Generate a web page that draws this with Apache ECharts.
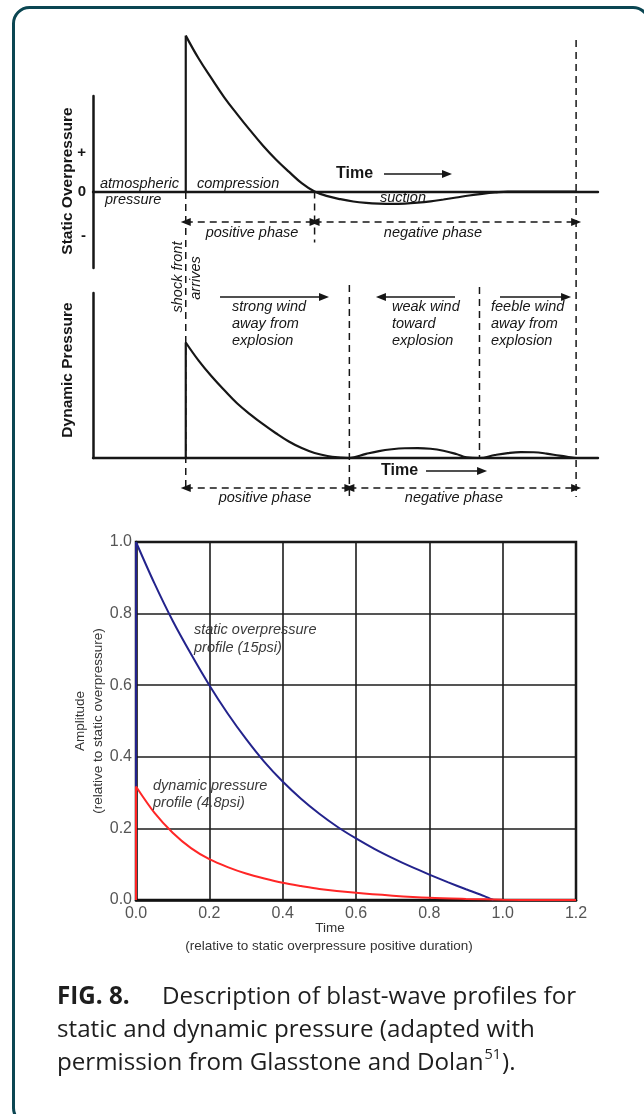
<!DOCTYPE html>
<html><head><meta charset="utf-8">
<script src="https://cdn.jsdelivr.net/npm/echarts@6/dist/echarts.min.js"></script>
<style>html,body{margin:0;padding:0;background:#fff}#c{width:644px;height:1114px}</style>
</head><body><div id="c"></div>
<script>
// ---------- DATA ----------
// Schematic time axis: units of positive-phase duration (shock front arrives at t = 0)
const staticT = [0, 0.1, 0.2, 0.3, 0.4, 0.5, 0.6, 0.7, 0.8, 0.9, 1.0, 1.1, 1.2, 1.3, 1.4, 1.5, 1.6, 1.7, 1.8, 1.9, 2.0, 2.1, 2.2, 2.3, 2.4, 2.5, 2.7, 3.03];
const staticV = [1.02, 0.87, 0.74, 0.615, 0.505, 0.40, 0.30, 0.21, 0.13, 0.055, 0, -0.03, -0.05, -0.065, -0.074, -0.079, -0.081, -0.079, -0.073, -0.064, -0.052, -0.039, -0.026, -0.015, -0.006, 0, 0, 0];
const dynT = [0, 0.1, 0.2, 0.3, 0.4, 0.5, 0.6, 0.7, 0.8, 0.9, 1.0, 1.1, 1.2, 1.27, 1.4, 1.5, 1.6, 1.7, 1.8, 1.9, 2.0, 2.1, 2.18, 2.28, 2.4, 2.5, 2.6, 2.7, 2.8, 2.9, 3.0, 3.03];
const dynV = [0.70, 0.59, 0.495, 0.41, 0.33, 0.265, 0.205, 0.15, 0.10, 0.06, 0.03, 0.012, 0.003, 0, 0.025, 0.042, 0.053, 0.059, 0.06, 0.056, 0.044, 0.024, 0.004, 0, 0.018, 0.03, 0.036, 0.035, 0.027, 0.014, 0.003, 0];
// phase boundaries (schematic time)
const phaseStatic = [[0, 1], [1, 3.03]];
const phaseDyn = [[0, 1.27], [1.27, 3.03]];
const windArrows = [[0.266, 1.073], [2.09, 1.515], [2.439, 2.952]]; // from -> to
const timeArrowStatic = [1.539, 2.028];
const timeArrowDyn = [1.865, 2.30];

// Lower chart: amplitude relative to static overpressure vs time
const blueT = [0, 0.05, 0.1, 0.15, 0.2, 0.25, 0.3, 0.35, 0.4, 0.45, 0.5, 0.55, 0.6, 0.65, 0.7, 0.75, 0.8, 0.85, 0.9, 0.95, 0.975];
const blueV = [1.0, 0.885, 0.78, 0.687, 0.600, 0.521, 0.45, 0.386, 0.331, 0.283, 0.241, 0.204, 0.172, 0.143, 0.117, 0.093, 0.071, 0.05, 0.03, 0.011, 0];
const redT = [0, 0.05, 0.1, 0.15, 0.2, 0.25, 0.3, 0.35, 0.4, 0.45, 0.5, 0.6, 0.7, 0.8, 0.9, 1.0, 1.1, 1.2];
const redV = [0.317, 0.244, 0.188, 0.145, 0.114, 0.092, 0.074, 0.06, 0.048, 0.039, 0.031, 0.02, 0.012, 0.006, 0.003, 0.001, 0, 0];

// ---------- HELPERS ----------
const zip = (a, b) => a.map((x, i) => [x, b[i]]);
const INK = '#161616';
const AF = '"Liberation Sans", Arial, sans-serif';
const T0 = -0.72, T1 = 3.2;

function schemX(g) {
  return { gridIndex: g, type: 'value', min: T0, max: T1,
    axisLine: { show: true, onZero: true, lineStyle: { color: INK, width: 2.4 } },
    axisTick: { show: false }, axisLabel: { show: false }, splitLine: { show: false } };
}
// a straight segment drawn as a line series; optional arrow heads at ends
function seg(g, p0, p1, dashed, head0, head1) {
  const a = Math.atan2(p1[1] - p0[1], p1[0] - p0[0]);
  const leftwards = a >= Math.PI / 2 || a <= -Math.PI / 2;
  const pt = (p, head, atEnd) => {
    if (!head) return { value: p, symbol: 'none' };
    const pointsRight = atEnd ? !leftwards : leftwards;
    return { value: p, symbol: 'triangle', symbolSize: [8, 10], symbolRotate: pointsRight ? -90 : 90 };
  };
  return { type: 'line', xAxisIndex: g, yAxisIndex: g, clip: false, silent: true, animation: false,
    showSymbol: true, symbol: 'none', z: 5,
    itemStyle: { color: INK, borderWidth: 0 },
    lineStyle: { color: INK, width: 1.5, type: dashed ? [7, 5] : 'solid' },
    data: [pt(p0, head0, false), pt(p1, head1, true)] };
}

// ---------- GRAPHICS (texts, frame) ----------
const G = [];
function txt(x, y, s, font, opt) {
  opt = opt || {};
  G.push({ type: 'text', x, y, rotation: opt.rot || 0, silent: true, z: 50,
    style: { text: s, font, fill: opt.fill || INK,
      align: opt.align || 'left', textAlign: opt.align || 'left',
      verticalAlign: 'middle', textVerticalAlign: 'middle' } });
}
const IT = 'italic 14.5px ' + AF;
G.push({ type: 'rect', silent: true, z: 0, shape: { x: 13.5, y: 7.5, width: 635.5, height: 1116.5, r: 16 },
  style: { fill: 'none', stroke: '#0b4652', lineWidth: 3 } });
// panel 1
txt(68, 181, 'Static Overpressure', 'bold 15.5px ' + AF, { rot: Math.PI / 2, align: 'center' });
txt(100, 184, 'atmospheric', IT);
txt(105, 200, 'pressure', IT);
txt(197, 184, 'compression', IT);
txt(380, 198, 'suction', IT);
txt(252, 233, 'positive phase', IT, { align: 'center' });
txt(433, 233, 'negative phase', IT, { align: 'center' });
txt(336, 174, 'Time', 'bold 16px ' + AF);
// panel 2
txt(68, 370, 'Dynamic Pressure', 'bold 15.5px ' + AF, { rot: Math.PI / 2, align: 'center' });
txt(178, 277, 'shock front', IT, { rot: Math.PI / 2, align: 'center' });
txt(196, 278, 'arrives', IT, { rot: Math.PI / 2, align: 'center' });
[['strong wind', 'away from', 'explosion', 232], ['weak wind', 'toward', 'explosion', 392], ['feeble wind', 'away from', 'explosion', 491]]
  .forEach(a => { txt(a[3], 307, a[0], IT); txt(a[3], 324, a[1], IT); txt(a[3], 341, a[2], IT); });
txt(381, 471, 'Time', 'bold 16px ' + AF);
txt(265, 498, 'positive phase', IT, { align: 'center' });
txt(454, 498, 'negative phase', IT, { align: 'center' });
// lower chart annotations
const AT = 'italic 14.5px ' + AF;
txt(194, 630, 'static overpressure', AT, { fill: '#3a3a3a' });
txt(194, 648, 'profile (15psi)', AT, { fill: '#3a3a3a' });
txt(153, 786, 'dynamic pressure', AT, { fill: '#3a3a3a' });
txt(153, 803, 'profile (4.8psi)', AT, { fill: '#3a3a3a' });
txt(330, 928, 'Time', '13.5px ' + AF, { align: 'center', fill: '#333' });
txt(329, 946, '(relative to static overpressure positive duration)', '13.5px ' + AF, { align: 'center', fill: '#333' });
txt(80, 721, 'Amplitude', '13.5px ' + AF, { rot: Math.PI / 2, align: 'center', fill: '#333' });
txt(98, 721, '(relative to static overpressure)', '13.5px ' + AF, { rot: Math.PI / 2, align: 'center', fill: '#333' });
// caption (font size fitted to the reference line width)
const CF = '"Open Sans", "Noto Sans", sans-serif';
const cv = document.createElement('canvas').getContext('2d');
const line2 = 'static and dynamic pressure (adapted with';
cv.font = '20px ' + CF;
const capSize = Math.min(26, Math.max(18, 20 * 478 / cv.measureText(line2).width));
const cap = capSize.toFixed(2) + 'px ' + CF;
const CC = '#1e1e1e';
txt(57, 997, 'FIG. 8.', 'bold ' + cap, { fill: CC });
txt(162, 997, 'Description of blast-wave profiles for', cap, { fill: CC });
txt(57, 1030, line2, cap, { fill: CC });
const l3 = 'permission from Glasstone and Dolan';
cv.font = cap; const w3 = cv.measureText(l3).width;
const supF = (capSize * 0.6).toFixed(1) + 'px ' + CF;
cv.font = supF; const wS = cv.measureText('51').width;
txt(57, 1063, l3, cap, { fill: CC });
txt(57 + w3 + 1, 1055, '51', supF, { fill: CC });
txt(57 + w3 + 1 + wS + 1, 1063, ').', cap, { fill: CC });

// ---------- SERIES ----------
const S = [
  // panel 1: static overpressure schematic
  { type: 'line', xAxisIndex: 0, yAxisIndex: 0, clip: false, symbol: 'none', silent: true,
    data: [[0, 0], [0, staticV[0]]], lineStyle: { color: INK, width: 2.2 } },
  { type: 'line', xAxisIndex: 0, yAxisIndex: 0, clip: false, symbol: 'none', silent: true, smooth: 0.4,
    data: zip(staticT, staticV), lineStyle: { color: INK, width: 2.2 } },
  seg(0, [phaseStatic[0][0], -0.199], [phaseStatic[0][1], -0.199], true, true, true),
  seg(0, [phaseStatic[1][0], -0.199], [phaseStatic[1][1], -0.199], true, true, true),
  seg(0, [phaseStatic[0][1], 0], [phaseStatic[0][1], -0.333], true),
  seg(0, [timeArrowStatic[0], 0.115], [timeArrowStatic[1], 0.115], false, false, true),
  // panel 2: dynamic pressure schematic
  { type: 'line', xAxisIndex: 1, yAxisIndex: 1, clip: false, symbol: 'none', silent: true,
    data: [[0, 0], [0, dynV[0]]], lineStyle: { color: INK, width: 2.2 } },
  { type: 'line', xAxisIndex: 1, yAxisIndex: 1, clip: false, symbol: 'none', silent: true, smooth: 0.4,
    data: zip(dynT, dynV), lineStyle: { color: INK, width: 2.2 } },
  seg(1, [phaseDyn[0][0], -0.182], [phaseDyn[0][1], -0.182], true, true, true),
  seg(1, [phaseDyn[1][0], -0.182], [phaseDyn[1][1], -0.182], true, true, true),
  seg(1, [phaseDyn[0][0], 1.612], [phaseDyn[0][0], -0.206], true),
  seg(1, [phaseDyn[1][0], 1.048], [phaseDyn[1][0], -0.255], true),
  seg(1, [2.28, 1.036], [2.28, 0], true),
  seg(1, [phaseDyn[1][1], 2.533], [phaseDyn[1][1], -0.236], true),
  ...windArrows.map(a => seg(1, [a[0], 0.976], [a[1], 0.976], false, false, true)),
  seg(1, [timeArrowDyn[0], -0.079], [timeArrowDyn[1], -0.079], false, false, true),
  // lower chart
  { type: 'line', xAxisIndex: 2, yAxisIndex: 2, symbol: 'none', silent: true, z: 3,
    data: [[0, 0], [0, blueV[0]]], lineStyle: { color: '#23238c', width: 2 } },
  { type: 'line', xAxisIndex: 2, yAxisIndex: 2, symbol: 'none', silent: true, z: 3, smooth: 0.3,
    data: zip(blueT, blueV), lineStyle: { color: '#23238c', width: 2 } },
  { type: 'line', xAxisIndex: 2, yAxisIndex: 2, symbol: 'none', silent: true, z: 4,
    data: [[0, 0], [0, redV[0]]], lineStyle: { color: '#ff2626', width: 2 } },
  { type: 'line', xAxisIndex: 2, yAxisIndex: 2, symbol: 'none', silent: true, z: 4, smooth: 0.3,
    data: zip(redT, redV), lineStyle: { color: '#ff2626', width: 2 } }
];

// ---------- OPTION ----------
const option = {
  backgroundColor: '#fff',
  animation: false,
  grid: [
    { left: 93, width: 505, top: 96, height: 172 },
    { left: 93, width: 505, top: 293, height: 165 },
    { left: 136, width: 440, top: 542, height: 358, show: true, borderColor: '#111', borderWidth: 2.5, backgroundColor: 'transparent' }
  ],
  xAxis: [
    schemX(0), schemX(1),
    { gridIndex: 2, type: 'value', min: 0, max: 1.2, interval: 0.2,
      axisLine: { show: true, lineStyle: { color: '#111', width: 2.5 } }, axisTick: { show: false },
      axisLabel: { margin: 6, fontSize: 16, color: '#555', fontFamily: AF, formatter: v => v.toFixed(1) },
      splitLine: { show: true, lineStyle: { color: '#1c1c1c', width: 1.6 } } }
  ],
  yAxis: [
    { gridIndex: 0, type: 'value', min: -0.5, max: 0.625, interval: 0.25,
      axisLine: { show: true, onZero: false, lineStyle: { color: INK, width: 2.5 } }, axisTick: { show: false }, splitLine: { show: false },
      axisLabel: { margin: 7, fontSize: 15, fontWeight: 'bold', color: INK, fontFamily: AF, showMaxLabel: false,
        rich: { m: { fontSize: 15, fontWeight: 'bold', color: INK, fontFamily: AF, padding: [12, 0, 0, 0] } },
        formatter: v => Math.abs(v - 0.25) < 1e-6 ? '+' : Math.abs(v) < 1e-6 ? '0' : Math.abs(v + 0.25) < 1e-6 ? '{m|-}' : '' } },
    { gridIndex: 1, type: 'value', min: 0, max: 1,
      axisLine: { show: true, onZero: false, lineStyle: { color: INK, width: 2.5 } }, axisTick: { show: false },
      axisLabel: { show: false }, splitLine: { show: false } },
    { gridIndex: 2, type: 'value', min: 0, max: 1, interval: 0.2,
      axisLine: { show: true, lineStyle: { color: '#111', width: 2.5 } }, axisTick: { show: false },
      axisLabel: { margin: 4, fontSize: 16, color: '#555', fontFamily: AF, formatter: v => v.toFixed(1) },
      splitLine: { show: true, lineStyle: { color: '#1c1c1c', width: 1.6 } } }
  ],
  series: S,
  graphic: G
};
const chart = echarts.init(document.getElementById('c'), null, { renderer: 'canvas' });
chart.setOption(option);
</script>
</body></html>
